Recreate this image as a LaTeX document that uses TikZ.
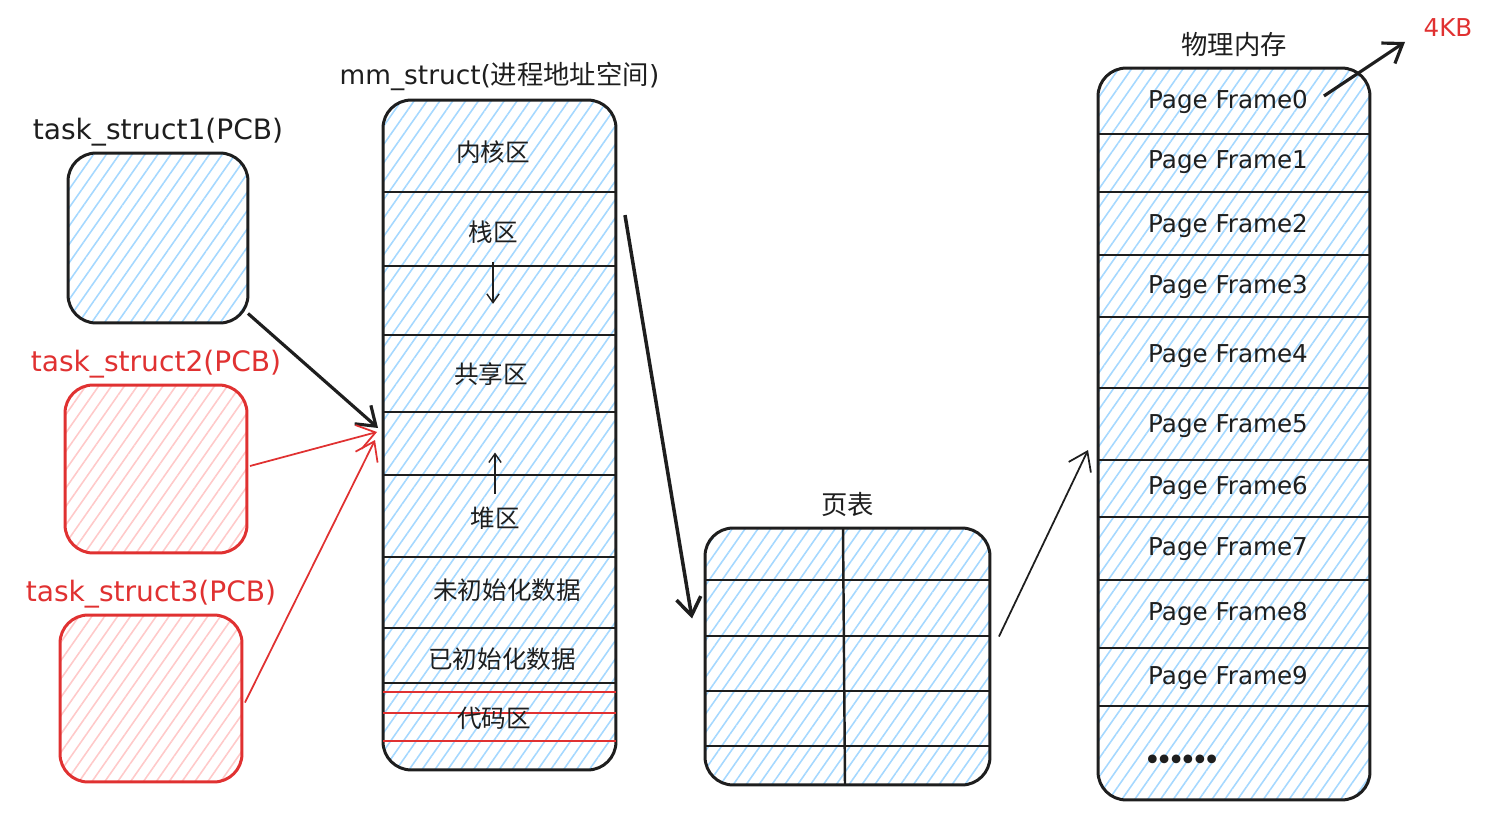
\documentclass[tikz,border=0pt]{standalone}
\usepackage{fontspec}
\setmainfont{DejaVu Sans}
\newfontfamily\cjk{Noto Sans CJK SC}
\usetikzlibrary{calc, positioning, arrows.meta, patterns.meta}

\definecolor{inkblack}{HTML}{1E1E1E}
\definecolor{inkred}{HTML}{E03131}
\definecolor{hatchblue}{HTML}{A5D8FF}
\definecolor{hatchpink}{HTML}{FFC9C9}

\tikzset{
  sketchbox/.style={draw=inkblack, line width=1.7pt, rounded corners=16pt,
    inner sep=0pt, outer sep=0pt,
    pattern={Lines[angle=55, distance=6pt, line width=0.9pt]}, pattern color=hatchblue},
  redbox/.style={sketchbox, draw=inkred, pattern color=hatchpink},
  title/.style={font=\fontsize{14}{17}\selectfont, text=inkblack, inner sep=1pt},
  bigtitle/.style={title, font=\fontsize{16}{19}\selectfont},
  areatext/.style={font=\cjk\fontsize{14}{17}\selectfont, text=inkblack},
  divider/.style={draw=inkblack, line width=0.8pt},
  reddivider/.style={draw=inkred, line width=1.2pt},
  gridline/.style={draw=inkblack, line width=1.4pt},
  bigarrow/.style={draw=inkblack, line width=1.8pt, -{Straight Barb[length=10pt, width=14pt]}},
  redarrow/.style={draw=inkred, line width=1pt, -{Straight Barb[length=10pt, width=14pt]}},
  thinarrow/.style={draw=inkblack, line width=0.8pt, -{Straight Barb[length=5pt, width=7pt]}},
}

\begin{document}
\begin{tikzpicture}[x=0.02cm, y=-0.02cm]
    \useasboundingbox (0,0) rectangle (1494,821);

    % The three task structures
    \node[sketchbox, minimum width=3.6cm, minimum height=3.4cm] (t1) at (158,238) {};
    \node[redbox, minimum width=3.64cm, minimum height=3.36cm] (t2) at (156,469) {};
    \node[redbox, minimum width=3.64cm, minimum height=3.34cm] (t3) at (151,698.5) {};
    \node[bigtitle, above=3pt of t1] (t1name) {task\_struct1(PCB)};
    \node[bigtitle, text=inkred, above=3pt of t2] (t2name) {task\_struct2(PCB)};
    \node[bigtitle, text=inkred, above=3pt of t3] (t3name) {task\_struct3(PCB)};

    % The address space
    \node[sketchbox, minimum width=4.66cm, minimum height=13.4cm] (mm) at (499.5,435) {};
    \node[title, font=\fontsize{15}{18}\selectfont, above=4pt of mm] (mmname) {mm\_struct({\cjk 进程地址空间})};
    \foreach \y in {192,266,335,412,475,557,628,683}
        \draw[divider] (mm.west |- 0,\y) -- (mm.east |- 0,\y);
    \foreach \y in {692,713,741}
        \draw[reddivider] (mm.west |- 0,\y) -- (mm.east |- 0,\y);
    \node[areatext] (kernel) at (493,152) {内核区};
    \node[areatext] (stack) at (493,232) {栈区};
    \node[areatext] (shared) at (491,374) {共享区};
    \node[areatext] (heap) at (495,518) {堆区};
    \node[areatext] (bss) at (507,590) {未初始化数据};
    \node[areatext] (data) at (502,659) {已初始化数据};
    \node[areatext] (code) at (494,718) {代码区};
    \draw[thinarrow] ([yshift=-7pt]stack.south) -- ++(0,42);
    \draw[thinarrow] ([yshift=4pt]heap.north) -- ++(0,-41);

    % The page table
    \node[sketchbox, minimum width=5.7cm, minimum height=5.14cm] (pt) at (847.5,656.5) {};
    \node[areatext, font=\cjk\fontsize{15}{18}\selectfont, above=3pt of pt] (ptname) {页表};
    \foreach \y in {580,636,691,746}
        \draw[gridline] (pt.west |- 0,\y) -- (pt.east |- 0,\y);
    \draw[gridline] (pt.north -| 843,0) -- (pt.south -| 845,0);

    % Physical memory with its frames
    \node[sketchbox, minimum width=5.44cm, minimum height=14.64cm] (phys) at (1234,434) {};
    \node[areatext, font=\cjk\fontsize{15}{18}\selectfont, above=3pt of phys] (physname) {物理内存};
    \foreach \y in {134,192,255,317,388,460,517,580,648,706}
        \draw[gridline] (phys.west |- 0,\y) -- (phys.east |- 0,\y);
    \foreach \i/\y in {0/102,1/162,2/226,3/287,4/356,5/426,6/488,7/549,8/614,9/678}
        \node[title] (f\i) at (1228,\y) {Page Frame\i};
    \node[title, font=\bfseries\fontsize{14}{16}\selectfont] (more) at (1183,762) {\kern-1pt•\kern-2.2pt•\kern-2.2pt•\kern-2.2pt•\kern-2.2pt•\kern-2.2pt•};
    \node[title, text=inkred] (kb) at (1448,28) {4KB};
    \coordinate (kbtip) at (1405,42);

    % Connectors
    \draw[bigarrow] (t1.-40) -- ($(mm.west)+(-5,-7)$);
    \draw[redarrow] ($(t2.east)+(3,-3)$) -- ($(mm.west)+(-6,-3)$);
    \draw[redarrow] ($(t3.east)+(3,4)$) -- ($(mm.west)+(-8,5)$);
    \draw[bigarrow, line width=2pt] ($(mm.north east)+(9,115)$) -- ($(pt.west)+(-13,-38)$);
    \draw[bigarrow, line width=1pt] ($(pt.east)+(9,-20)$) -- ($(phys.west)+(-10,16)$);
    \draw[bigarrow] ($(f0.east)+(14,-6)$) -- (kbtip);
\end{tikzpicture}
\end{document}
